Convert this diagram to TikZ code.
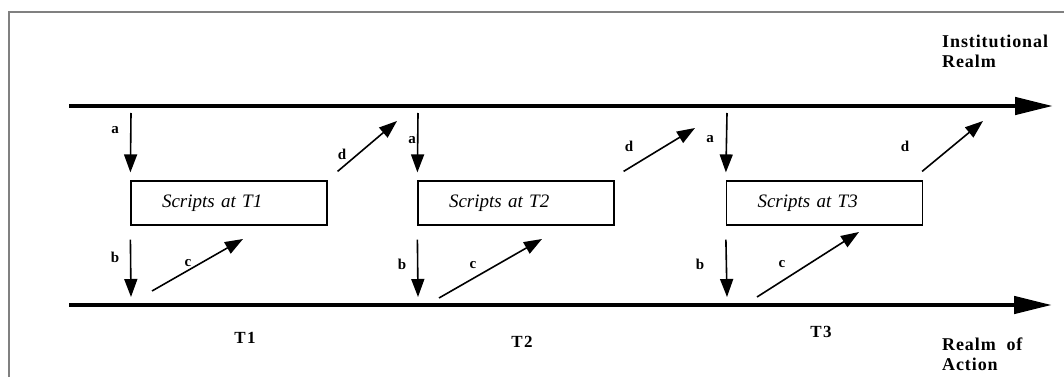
\documentclass[tikz,border=0pt]{standalone}
\usepackage{fontspec}
\setmainfont{Liberation Serif}
\newfontfamily\realmfont[LetterSpace=5]{Liberation Serif}
\newfontfamily\periodfont[LetterSpace=8]{Liberation Serif}
\usetikzlibrary{arrows.meta}

\tikzset{
	realm/.style = {line width = 4.5pt, -{Triangle[length = 38pt, width = 17pt]}},
	flow/.style = {line width = 1.6pt, -{Triangle[length = 18pt, width = 13pt]}},
	script/.style = {draw, line width = 1.2pt, minimum width = 196pt, minimum height = 44pt, inner xsep = 31pt, inner ysep = 0pt, text width = 134pt, align = left, font = \fontsize{19}{21}\selectfont\itshape},
	tag/.style = {inner sep = 0pt, font = \fontsize{15}{17}\selectfont\bfseries},
	period/.style = {inner sep = 0pt, font = \periodfont\fontsize{17}{19}\selectfont\bfseries},
	realmname/.style = {inner sep = 0pt, anchor = north west, align = left, font = \realmfont\fontsize{18}{20}\selectfont\bfseries}
}

\begin{document}
\begin{tikzpicture}[x = 1pt, y = -1pt]
	\useasboundingbox (0, 0) rectangle (1064, 377);
	\draw[gray, line width = 2pt] (9, 377) -- (9, 12) -- (1064, 12);
	
	% the two realms
	\coordinate (inst start) at (69, 106);
	\coordinate (inst end) at (1053, 106);
	\coordinate (act start) at (69, 305);
	\coordinate (act end) at (1052, 305);
	\draw[realm] (inst start) -- (inst end);
	\draw[realm] (act start) -- (act end);
	\node[realmname] (inst) at (942, 35) {Institutional\\Realm};
	\node[realmname] (act) at (942, 338) {Realm~ of\\Action};
	
	% scripts
	\node[script] (s1) at (229, 203) {Scripts at T1};
	\node[script] (s2) at (516, 203) {Scripts at T2};
	\node[script] (s3) at (824.5, 203) {Scripts at T3};
	
	\node[period] (t1) at (245, 338) {T1};
	\node[period] (t2) at (522, 342) {T2};
	\node[period] (t3) at (821, 332) {T3};
	
	% T1
	\coordinate (a1) at (131, 113);
	\coordinate (b1) at (131, 297);
	\coordinate (c1 start) at (152, 291);
	\coordinate (c1 end) at (243, 239);
	\coordinate (d1) at (397, 121);
	\draw[flow] (a1) -- ([yshift = 8pt]s1.north west);
	\draw[flow] ([yshift = -14pt]s1.south west) -- (b1);
	\draw[flow] (c1 start) -- (c1 end);
	\draw[flow] ([xshift = 10pt, yshift = 9pt]s1.north east) -- (d1);
	\node[tag] (la1) at (115, 130) {a};
	\node[tag] (lb1) at (115, 257) {b};
	\node[tag] (lc1) at (188, 263) {c};
	\node[tag] (ld1) at (342, 154) {d};
	
	% T2
	\coordinate (a2) at (418, 113);
	\coordinate (b2) at (418, 297);
	\coordinate (c2 start) at (439, 298);
	\coordinate (c2 end) at (542, 239);
	\coordinate (d2) at (695, 128);
	\draw[flow] (a2) -- ([yshift = 8pt]s2.north west);
	\draw[flow] ([yshift = -14pt]s2.south west) -- (b2);
	\draw[flow] (c2 start) -- (c2 end);
	\draw[flow] ([xshift = 9pt, yshift = 9pt]s2.north east) -- (d2);
	\node[tag] (la2) at (412, 140) {a};
	\node[tag] (lb2) at (402, 264) {b};
	\node[tag] (lc2) at (473, 265) {c};
	\node[tag] (ld2) at (629, 146) {d};
	
	% T3
	\coordinate (a3) at (727, 113);
	\coordinate (b3) at (727, 297);
	\coordinate (c3 start) at (757, 297);
	\coordinate (c3 end) at (859, 232);
	\coordinate (d3) at (983, 121);
	\draw[flow] (a3) -- ([yshift = 8pt]s3.north west);
	\draw[flow] ([yshift = -14pt]s3.south west) -- (b3);
	\draw[flow] (c3 start) -- (c3 end);
	\draw[flow] ([xshift = -1pt, yshift = 9pt]s3.north east) -- (d3);
	\node[tag] (la3) at (710, 139) {a};
	\node[tag] (lb3) at (700, 264) {b};
	\node[tag] (lc3) at (782, 264) {c};
	\node[tag] (ld3) at (905, 146) {d};
\end{tikzpicture}
\end{document}
